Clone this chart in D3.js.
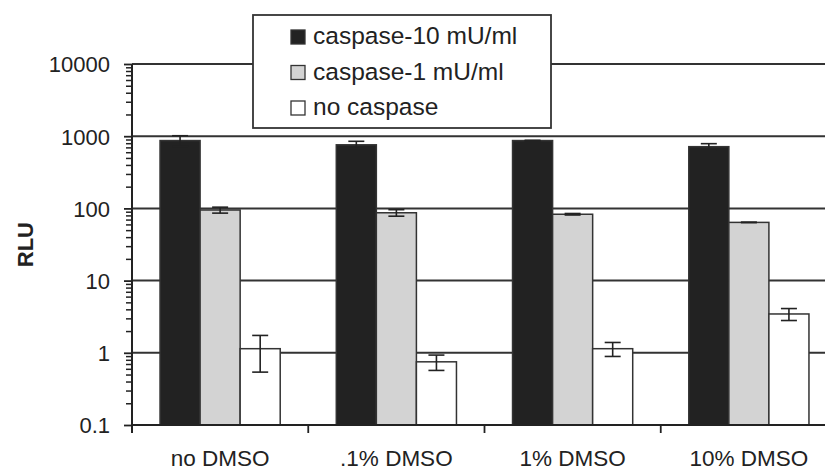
<!DOCTYPE html>
<html>
<head>
<meta charset="utf-8">
<script src="https://cdn.jsdelivr.net/npm/d3@7"></script>
<style>
  body { margin: 0; background: #fff; }
  svg text { font-family: "Liberation Sans", Arial, sans-serif; fill: #222; }
</style>
</head>
<body>
<div id="container"></div>
<script>
var categories = ["no DMSO", ".1% DMSO", "1% DMSO", "10% DMSO"];
var series = ["caspase-10 mU/ml", "caspase-1 mU/ml", "no caspase"];
var seriesColors = ["#222222", "#d3d3d3", "#ffffff"];

// mean values per series, one per category
var casp10 = [870, 760, 870, 716];
var casp1 = [95, 87, 83, 64];
var noCasp = [1.14, 0.75, 1.14, 3.45];
// error (+/-)
var casp10Err = [145, 90, 8, 72];
var casp1Err = [9, 9, 2, 0.5];
var noCaspErr = [0.6, 0.18, 0.25, 0.65];

var yMajor = [0.1, 1, 10, 100, 1000, 10000];
var yLabels = ["0.1", "1", "10", "100", "1000", "10000"];

var margin = {top: 64, right: -12, bottom: 47, left: 132},
    width = 825 - margin.left - margin.right,
    height = 472 - margin.top - margin.bottom;

var values = [casp10, casp1, noCasp];
var errors = [casp10Err, casp1Err, noCaspErr];

function drawChart() {
    var svg = d3.select("#container")
      .append("svg")
        .attr("width", 825)
        .attr("height", 472)
      .append("g")
        .attr("transform", "translate(" + margin.left + "," + margin.top + ")");

    var x = d3.scaleBand()
        .domain(categories)
        .range([0, width]);

    var xs = d3.scaleBand()
        .domain(series)
        .range([0, x.bandwidth()])
        .paddingOuter(0.7);

    var y = d3.scaleLog()
        .domain([0.1, 10000])
        .range([height, 0]);

    // gridlines
    svg.selectAll(".grid")
        .data(yMajor.slice(1))
        .enter()
        .append("line")
        .attr("x1", 0).attr("x2", width)
        .attr("y1", function(d) { return y(d); })
        .attr("y2", function(d) { return y(d); })
        .attr("stroke", "#333")
        .attr("stroke-width", 2);

    // bars
    var rows = [];
    series.forEach(function(s, i) {
        categories.forEach(function(c, j) {
            rows.push({cat: c, ser: s, i: i, v: values[i][j], e: errors[i][j]});
        });
    });

    svg.selectAll("rect.bar")
        .data(rows)
        .enter()
        .append("rect")
        .attr("class", "bar")
        .attr("x", function(d) { return x(d.cat) + xs(d.ser); })
        .attr("width", xs.bandwidth())
        .attr("y", function(d) { return y(d.v); })
        .attr("height", function(d) { return height - y(d.v); })
        .attr("fill", function(d) { return seriesColors[d.i]; })
        .attr("stroke", "#333")
        .attr("stroke-width", 1.5);

    // error bars
    var eb = svg.selectAll("g.err")
        .data(rows)
        .enter()
        .append("g")
        .attr("class", "err")
        .attr("stroke", "#222")
        .attr("stroke-width", 1.6);
    var cx = function(d) { return x(d.cat) + xs(d.ser) + xs.bandwidth() / 2; };
    eb.append("line")
        .attr("x1", cx).attr("x2", cx)
        .attr("y1", function(d) { return y(d.v + d.e); })
        .attr("y2", function(d) { return y(d.v - d.e); });
    [1, -1].forEach(function(sgn) {
        eb.append("line")
            .attr("x1", function(d) { return cx(d) - 8; })
            .attr("x2", function(d) { return cx(d) + 8; })
            .attr("y1", function(d) { return y(d.v + sgn * d.e); })
            .attr("y2", function(d) { return y(d.v + sgn * d.e); });
    });

    // y axis: minor ticks then major
    var minor = [];
    yMajor.slice(0, -1).forEach(function(m) {
        for (var k = 2; k <= 9; k++) minor.push(m * k);
    });
    svg.append("g")
        .call(d3.axisLeft(y).tickValues(minor).tickSize(6).tickFormat(""))
        .call(function(g) { g.select(".domain").remove(); })
        .selectAll("line").attr("stroke", "#222").attr("stroke-width", 1.5);

    var yAxis = svg.append("g")
        .call(d3.axisLeft(y).tickValues(yMajor).tickSize(8).tickPadding(14)
            .tickFormat(function(d, i) { return yLabels[i]; }));
    yAxis.select(".domain").remove();
    yAxis.selectAll("line").attr("stroke", "#222").attr("stroke-width", 1.8);
    yAxis.selectAll("text").style("font-size", "22px").attr("dy", "0.36em");

    svg.append("line")
        .attr("x1", 0).attr("x2", 0)
        .attr("y1", 0).attr("y2", height + 8)
        .attr("stroke", "#222").attr("stroke-width", 2);

    // x axis
    svg.append("line")
        .attr("x1", 0).attr("x2", width)
        .attr("y1", height).attr("y2", height)
        .attr("stroke", "#222").attr("stroke-width", 2);
    svg.selectAll(".xtick")
        .data(categories.slice(1))
        .enter()
        .append("line")
        .attr("x1", function(d) { return x(d); })
        .attr("x2", function(d) { return x(d); })
        .attr("y1", height).attr("y2", height + 8)
        .attr("stroke", "#222").attr("stroke-width", 1.8);
    svg.selectAll(".xlabel")
        .data(categories)
        .enter()
        .append("text")
        .attr("x", function(d) { return x(d) + x.bandwidth() / 2; })
        .attr("y", height + 41)
        .attr("text-anchor", "middle")
        .style("font-size", "22.5px")
        .text(function(d) { return d; });

    // y title
    svg.append("text")
        .attr("transform", "translate(" + (-99) + "," + (y(10) - 36) + ") rotate(-90)")
        .attr("text-anchor", "middle")
        .style("font-size", "22px")
        .style("font-weight", "bold")
        .text("RLU");

    // legend
    var lg = svg.append("g")
        .attr("transform", "translate(" + (253 - margin.left) + "," + (15 - margin.top) + ")");
    lg.append("rect")
        .attr("width", 298).attr("height", 113)
        .attr("fill", "#fff").attr("stroke", "#333").attr("stroke-width", 1.8);
    var item = lg.selectAll(".item")
        .data(series)
        .enter()
        .append("g")
        .attr("transform", function(d, i) { return "translate(38," + (29 + i * 35.5) + ")"; });
    item.append("rect")
        .attr("x", 0).attr("y", -14)
        .attr("width", 14).attr("height", 14)
        .attr("fill", function(d, i) { return seriesColors[i]; })
        .attr("stroke", "#333").attr("stroke-width", 1.3);
    item.append("text")
        .attr("x", 22).attr("y", 0)
        .style("font-size", "24.5px")
        .text(function(d) { return d; });
}

drawChart();
</script>
</body>
</html>
